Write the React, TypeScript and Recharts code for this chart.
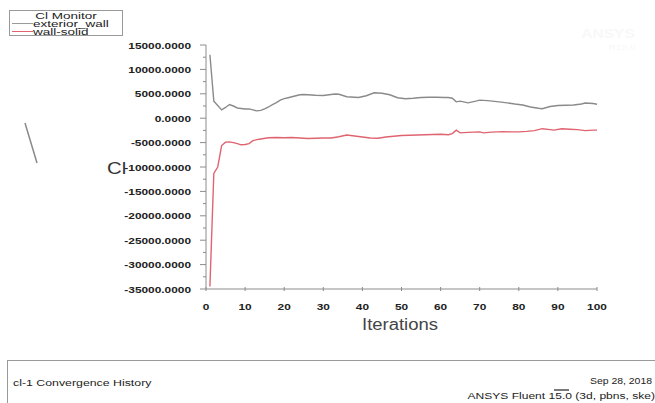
import { LineChart, Line, XAxis, YAxis } from 'recharts'

const iterExterior = [1, 2, 3, 4, 5, 6, 7, 8, 9, 10, 11, 12, 13, 14, 15, 16, 17, 18, 19, 20, 21, 22, 23, 24, 25, 26, 28, 30, 32, 33, 34, 36, 38, 39, 41, 43, 45, 47, 49, 51, 53, 55, 57, 59, 61, 62, 63, 64, 65, 67, 69, 70, 72, 75, 77, 79, 81, 83, 85, 86, 88, 90, 92, 94, 96, 97, 99, 100]
const exteriorWall = [13000, 3500, 2600, 1700, 2200, 2800, 2500, 2100, 2000, 1900, 1900, 1700, 1500, 1600, 1900, 2300, 2800, 3200, 3700, 4000, 4200, 4400, 4600, 4800, 4850, 4800, 4700, 4650, 4850, 4950, 4900, 4400, 4300, 4250, 4600, 5200, 5100, 4800, 4200, 4000, 4100, 4250, 4300, 4300, 4250, 4250, 4100, 3350, 3500, 3150, 3500, 3700, 3600, 3350, 3150, 2900, 2700, 2300, 2050, 1950, 2400, 2600, 2650, 2700, 2900, 3100, 3000, 2850]

const iterSolid = [1, 2, 3, 4, 5, 6, 7, 8, 9, 10, 11, 12, 13, 14, 16, 18, 20, 22, 24, 26, 28, 30, 32, 34, 36, 38, 40, 42, 44, 46, 48, 50, 52, 54, 56, 58, 60, 62, 63, 64, 65, 67, 70, 71, 73, 76, 78, 80, 82, 84, 86, 88, 89, 91, 93, 95, 97, 99, 100]
const wallSolid = [-34500, -11300, -10000, -5600, -4900, -4850, -5000, -5200, -5450, -5400, -5200, -4600, -4400, -4250, -4000, -3950, -4000, -3950, -4050, -4150, -4100, -4050, -4050, -3800, -3450, -3650, -3850, -4050, -4100, -3850, -3700, -3550, -3500, -3450, -3400, -3350, -3300, -3400, -3150, -2450, -3000, -2900, -2800, -3000, -2850, -2750, -2800, -2800, -2700, -2550, -2150, -2350, -2450, -2150, -2250, -2350, -2550, -2450, -2450]

const xTicks = [0, 10, 20, 30, 40, 50, 60, 70, 80, 90, 100]
const yTicks = [-35000, -32500, -30000, -27500, -25000, -22500, -20000, -17500, -15000, -12500, -10000, -7500, -5000, -2500, 0, 2500, 5000, 7500, 10000, 12500, 15000]

const exteriorData = iterExterior.map((it, i) => ({ it, v: exteriorWall[i] }))
const solidData = iterSolid.map((it, i) => ({ it, v: wallSolid[i] }))

const FONT = '"Liberation Sans", Arial, sans-serif'
const AXIS = '#8c8c8c'
const RED = '#df6470'

const YTick = (props: any) => {
  const { x, y, payload } = props
  const major = payload.value % 5000 === 0
  return (
    <g>
      <line x1={x - (major ? 6 : 3)} x2={x} y1={y} y2={y} stroke={AXIS} />
      {major && (
        <text
          transform={`translate(${x - 15},${y + 3.5}) scale(1.25,1)`}
          textAnchor="end"
          fontSize={9.5}
          fontWeight="bold"
          fontFamily={FONT}
          fill="#222"
        >
          {payload.value.toFixed(4)}
        </text>
      )}
    </g>
  )
}

const XTick = (props: any) => {
  const { x, y, payload } = props
  return (
    <g>
      <line x1={x} x2={x} y1={y - 2} y2={y + 2} stroke={AXIS} />
      <text
        transform={`translate(${x},${y + 21}) scale(1.25,1)`}
        textAnchor="middle"
        fontSize={9.5}
        fontWeight="bold"
        fontFamily={FONT}
        fill="#222"
      >
        {payload.value}
      </text>
    </g>
  )
}

export default function App() {
  return (
    <div style={{ position: 'absolute', left: 0, top: 0, width: 655, height: 403, background: '#fff' }}>
      <LineChart width={655} height={403} margin={{ top: 45, right: 58, bottom: 84, left: 126 }}>
        <XAxis
          dataKey="it"
          type="number"
          domain={[0, 100]}
          ticks={xTicks}
          height={30}
          tickSize={0}
          tickMargin={0}
          tickLine={false}
          stroke={AXIS}
          tick={<XTick />}
          allowDuplicatedCategory={false}
        />
        <YAxis
          type="number"
          domain={[-35000, 15000]}
          ticks={yTicks}
          width={80}
          tickSize={0}
          tickMargin={0}
          tickLine={false}
          stroke={AXIS}
          tick={<YTick />}
          interval={0}
          allowDataOverflow
        />
        <Line data={exteriorData} dataKey="v" type="linear" stroke="#8a8a8a" strokeWidth={1.4} dot={false} isAnimationActive={false} />
        <Line data={solidData} dataKey="v" type="linear" stroke={RED} strokeWidth={1.4} dot={false} isAnimationActive={false} />
      </LineChart>
      <svg width={655} height={403} style={{ position: 'absolute', left: 0, top: 0, pointerEvents: 'none' }} fontFamily={FONT}>
        <rect x={9.5} y={10.5} width={113} height={25} fill="#fff" stroke="#999" />
        <text transform="translate(66,18.5) scale(1.5,1)" textAnchor="middle" fontSize={9} fill="#222">Cl Monitor</text>
        <line x1={12} x2={33} y1={23.5} y2={23.5} stroke="#9a9a9a" />
        <text transform="translate(33,26.5) scale(1.5,1)" fontSize={9} fill="#222">exterior_wall</text>
        <line x1={12} x2={33} y1={31.5} y2={31.5} stroke={RED} />
        <text transform="translate(33,34.5) scale(1.5,1)" fontSize={9} fill="#222">wall-solid</text>

        <text transform="translate(608,38) scale(1.3,1)" textAnchor="middle" fontSize={12} fontWeight="bold" fill="#f8f8f8">ANSYS</text>
        <text transform="translate(622,50) scale(1.3,1)" textAnchor="middle" fontSize={8} fill="#f8f8f8">R15.0</text>

        <line x1={25} y1={123} x2={37} y2={163} stroke="#8a8a8a" strokeWidth={1.5} />
        <text transform="translate(107,174) scale(1.2,1)" fontSize={17} fill="#333">Cl</text>
        <text x={400} y={330} textAnchor="middle" fontSize={16} textLength={76} lengthAdjust="spacingAndGlyphs" fill="#444">Iterations</text>

        <rect x={7.5} y={360.5} width={660} height={60} fill="none" stroke="#999" />
        <text transform="translate(13,386) scale(1.3,1)" fontSize={9.5} fill="#222">cl-1 Convergence History</text>
        <text transform="translate(652,384) scale(1.1,1)" textAnchor="end" fontSize={9.5} fill="#222">Sep 28, 2018</text>
        <text transform="translate(655,399) scale(1.27,1)" textAnchor="end" fontSize={9.5} fill="#222">ANSYS Fluent 15.0 (3d, pbns, ske)</text>
        <line x1={554} x2={569} y1={390} y2={390} stroke="#222" strokeWidth={1.2} />
      </svg>
    </div>
  )
}
